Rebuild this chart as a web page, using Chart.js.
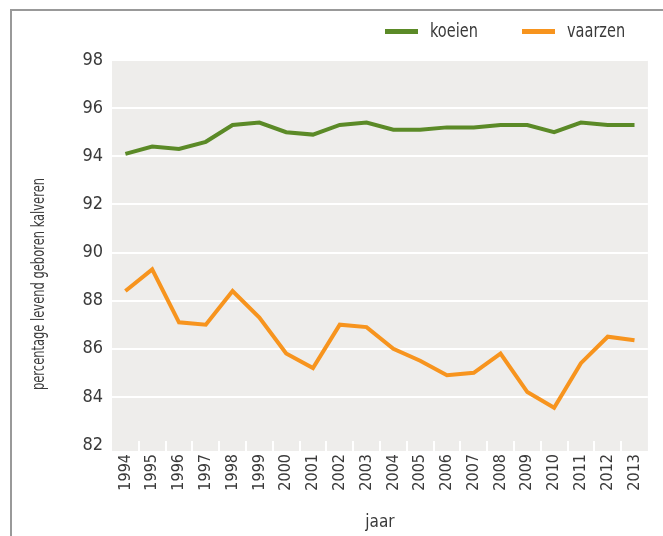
<!DOCTYPE html>
<html>
<head>
<meta charset="utf-8">
<script src="https://cdn.jsdelivr.net/npm/chart.js@4"></script>
<style>
  html, body { margin: 0; padding: 0; background: #fff; overflow: hidden; }
  #wrap { position: relative; width: 663px; height: 536px; }
  #frame { position: absolute; left: 10px; top: 9px; right: -10px; bottom: -10px;
           border-top: 2px solid #999; border-left: 2px solid #999; }
  #chart1 { position: absolute; left: 0; top: 0; }
</style>
</head>
<body>
<div id="wrap">
  <div id="frame"></div>
  <canvas id="chart1" width="663" height="536"></canvas>
</div>
<script>
const years = ['1994', '1995', '1996', '1997', '1998', '1999', '2000', '2001', '2002', '2003',
  '2004', '2005', '2006', '2007', '2008', '2009', '2010', '2011', '2012', '2013'];
const koeien = [94.1, 94.4, 94.3, 94.6, 95.3, 95.4, 95.0, 94.9, 95.3, 95.4,
  95.1, 95.1, 95.2, 95.2, 95.3, 95.3, 95.0, 95.4, 95.3, 95.3];
const vaarzen = [88.4, 89.3, 87.1, 87.0, 88.4, 87.3, 85.8, 85.2, 87.0, 86.9,
  86.0, 85.5, 84.9, 85.0, 85.8, 84.2, 83.55, 85.4, 86.5, 86.35];
const seriesNames = ['koeien', 'vaarzen'];
const yTitle = 'percentage levend geboren kalveren';
const xTitle = 'jaar';

const FONT = "'DejaVu Sans Condensed', 'Liberation Sans Narrow', 'Roboto', sans-serif";
const TEXT = '#3a3a3a';

// grey plot background, reaching a little below the 82 line
const plotBg = {
  id: 'plotBg',
  beforeDraw(chart) {
    const a = chart.chartArea, c = chart.ctx;
    c.save();
    c.fillStyle = '#eeedeb';
    c.fillRect(a.left, a.top, a.right - a.left, a.bottom - a.top + 6);
    c.restore();
  }
};

// short white ticks between the years, inside the plot
const innerTicks = {
  id: 'innerTicks',
  beforeDatasetsDraw(chart) {
    const x = chart.scales.x, a = chart.chartArea, c = chart.ctx;
    c.save();
    c.strokeStyle = '#fff';
    c.lineWidth = 2;
    for (let i = 0; i < years.length - 1; i++) {
      const px = Math.round((x.getPixelForTick(i) + x.getPixelForTick(i + 1)) / 2);
      c.beginPath();
      c.moveTo(px, a.bottom - 4);
      c.lineTo(px, a.bottom + 6);
      c.stroke();
    }
    c.restore();
  }
};

// legend and y title drawn by hand (narrow lettering like the original)
const extras = {
  id: 'extras',
  afterDraw(chart) {
    const c = chart.ctx;
    c.save();
    c.font = '19px ' + FONT;
    c.textBaseline = 'middle';
    let lx = 385;
    chart.data.datasets.forEach((ds) => {
      c.fillStyle = ds.borderColor;
      c.fillRect(lx, 29, 33, 5);
      c.fillStyle = TEXT;
      c.save();
      c.translate(lx + 45, 32);
      c.scale(0.85, 1);
      c.fillText(ds.label, 0, 0);
      c.restore();
      lx += 137;
    });
    c.translate(39, 284);
    c.rotate(-Math.PI / 2);
    c.scale(0.71, 1);
    c.textAlign = 'center';
    c.font = '18px ' + FONT;
    c.fillStyle = TEXT;
    c.fillText(yTitle, 0, 0);
    c.restore();
  }
};

function renderChart() {
  const ctx1 = document.getElementById('chart1');

  new Chart(ctx1, {
    type: 'line',
    data: {
      labels: years,
      datasets: [{
        label: seriesNames[0],
        data: koeien,
        borderColor: '#5b8a27',
        borderWidth: 4,
        pointRadius: 0,
        tension: 0
      }, {
        label: seriesNames[1],
        data: vaarzen,
        borderColor: '#f7941e',
        borderWidth: 4,
        pointRadius: 0,
        tension: 0
      }]
    },
    options: {
      responsive: false,
      animation: false,
      layout: { padding: { top: 60, right: 12, left: 0, bottom: 0 } },
      plugins: {
        legend: { display: false },
        tooltip: { enabled: false }
      },
      scales: {
        x: {
          offset: true,
          grid: { display: false, drawTicks: false },
          border: { display: false },
          ticks: {
            minRotation: 90, maxRotation: 90, padding: 9, autoSkip: false,
            color: TEXT, font: { family: FONT, size: 16 }
          },
          title: {
            display: true, text: xTitle, color: TEXT,
            font: { family: FONT, size: 17 }, padding: { top: 0, bottom: 3 }
          },
          afterFit(scale) { scale.height = 91; }
        },
        y: {
          min: 82,
          max: 98,
          grid: {
            color: (c) => (c.tick && c.tick.value === 82 ? 'rgba(0,0,0,0)' : '#ffffff'),
            lineWidth: 2,
            drawTicks: false
          },
          border: { display: false },
          ticks: {
            stepSize: 2, padding: 9,
            color: TEXT, font: { family: FONT, size: 18 }
          },
          afterFit(scale) { scale.width = 112; }
        }
      }
    },
    plugins: [plotBg, innerTicks, extras]
  });
}
renderChart();
</script>
</body>
</html>
